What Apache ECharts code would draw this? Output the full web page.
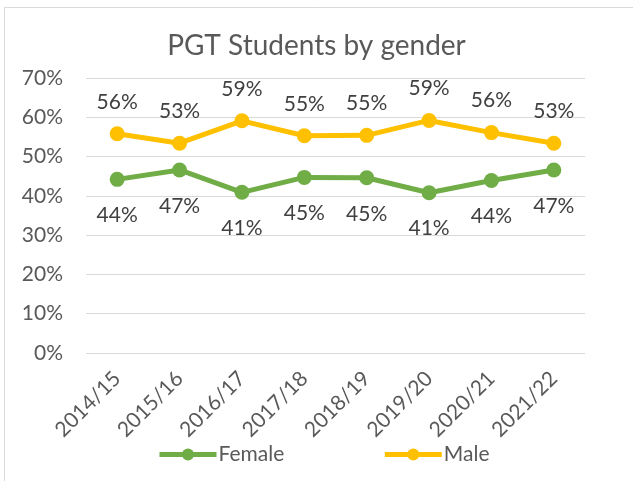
<!DOCTYPE html>
<html>
<head>
<meta charset="utf-8">
<script src="https://cdn.jsdelivr.net/npm/echarts@6/dist/echarts.min.js"></script>
<style>
  html, body { margin: 0; padding: 0; background: #fff; }
  #chart { width: 633px; height: 481px; }
</style>
</head>
<body>
<div id="chart"></div>
<script>
const years = ['2014/15', '2015/16', '2016/17', '2017/18', '2018/19', '2019/20', '2020/21', '2021/22']
const female = [0.442, 0.466, 0.409, 0.447, 0.446, 0.408, 0.439, 0.466]
const male = [0.558, 0.534, 0.591, 0.553, 0.554, 0.592, 0.561, 0.534]

const font = 'Lato'
const pct = v => Math.round(v * 100) + '%'

const chart = echarts.init(document.getElementById('chart'))

function lineSeries(name, data, color, pos, dist) {
  return {
    name,
    type: 'line',
    data,
    symbol: 'circle',
    symbolSize: 15,
    lineStyle: { width: 5, color },
    itemStyle: { color },
    label: {
      show: true,
      position: pos,
      distance: dist,
      formatter: p => pct(p.value),
      color: '#404040',
      fontFamily: font,
      fontSize: 21
    }
  }
}

chart.setOption({
  animation: false,
  title: {
    text: 'PGT Students by gender',
    left: 'center',
    top: 27,
    textStyle: { fontFamily: font, fontSize: 28, fontWeight: 'normal', color: '#595959' }
  },
  graphic: [{
    type: 'rect',
    shape: { x: 4.5, y: 7.5, width: 700, height: 600 },
    style: { fill: 'none', stroke: '#d9d9d9', lineWidth: 1 },
    silent: true
  }],
  legend: {
    left: 152,
    top: 439,
    itemWidth: 57,
    itemHeight: 15,
    itemGap: 98,
    itemGap2: 0,
    lineStyle: { width: 5 },
    textStyle: { fontFamily: font, fontSize: 21, color: '#595959', padding: [0, 0, 0, -3] },
    data: ['Female', 'Male']
  },
  grid: { left: 86, right: 48, top: 78, bottom: 128 },
  xAxis: {
    type: 'category',
    data: years,
    axisLine: { show: false },
    axisTick: { show: false },
    axisLabel: { rotate: 45, margin: 22, fontFamily: font, fontSize: 21, color: '#595959', interval: 0 }
  },
  yAxis: {
    type: 'value',
    min: 0,
    max: 0.7,
    interval: 0.1,
    axisLabel: { formatter: pct, margin: 23, fontFamily: font, fontSize: 21, color: '#595959' },
    splitLine: { lineStyle: { color: '#d9d9d9', width: 1 } }
  },
  series: [
    lineSeries('Female', female, '#70AD47', 'bottom', 18),
    lineSeries('Male', male, '#FFC000', 'top', 14)
  ]
})
</script>
</body>
</html>
